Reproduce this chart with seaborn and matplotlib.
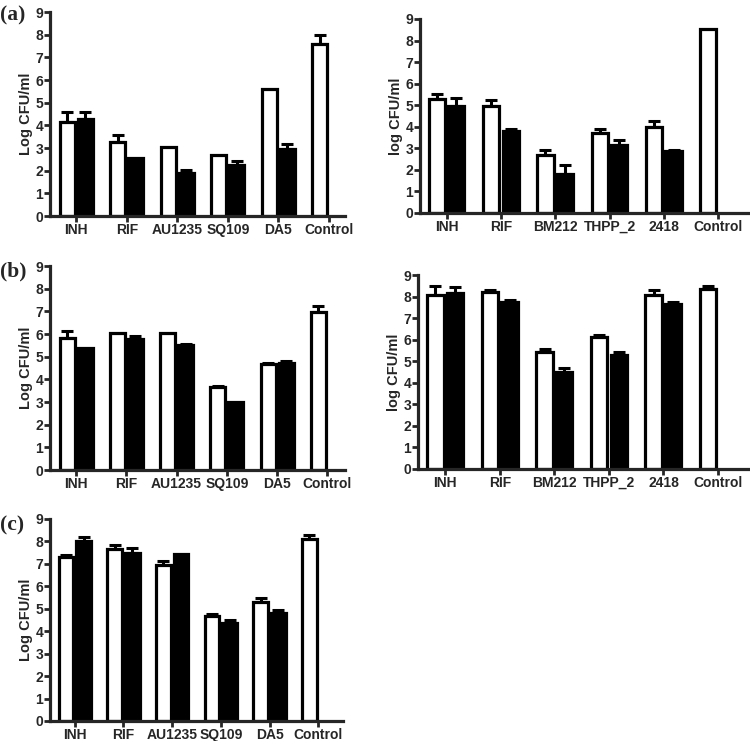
import numpy as np
import pandas as pd
import matplotlib
matplotlib.use("Agg")
import matplotlib.pyplot as plt
import seaborn as sns

sns.set_style("ticks")
plt.rcParams['font.family'] = 'sans-serif'
plt.rcParams['font.sans-serif'] = ['Liberation Sans', 'Arial', 'DejaVu Sans']
plt.rcParams['font.weight'] = 'bold'

cats_left = ["INH", "RIF", "AU1235", "SQ109", "DA5", "Control"]
cats_right = ["INH", "RIF", "BM212", "THPP_2", "2418", "Control"]

# panel (a) left
aL_white = [4.16, 3.27, 3.05, 2.69, 5.62, 7.60]
aL_white_err = [0.42, 0.32, 0.0, 0.0, 0.0, 0.40]
aL_black = [4.28, 2.56, 1.88, 2.25, 2.94, np.nan]
aL_black_err = [0.32, 0.0, 0.15, 0.19, 0.22, 0.0]
# panel (a) right
aR_white = [5.30, 4.95, 2.70, 3.71, 3.97, 8.53]
aR_white_err = [0.23, 0.30, 0.24, 0.19, 0.28, 0.0]
aR_black = [4.98, 3.82, 1.82, 3.17, 2.86, np.nan]
aR_black_err = [0.34, 0.08, 0.42, 0.20, 0.08, 0.0]
# panel (b) left
bL_white = [5.84, 6.06, 6.05, 3.65, 4.68, 6.99]
bL_white_err = [0.29, 0.0, 0.0, 0.07, 0.06, 0.26]
bL_black = [5.40, 5.76, 5.51, 2.99, 4.70, np.nan]
bL_black_err = [0.0, 0.13, 0.06, 0.0, 0.13, 0.0]
# panel (b) right
bR_white = [8.07, 8.23, 5.45, 6.14, 8.07, 8.33]
bR_white_err = [0.42, 0.08, 0.12, 0.08, 0.23, 0.17]
bR_black = [8.18, 7.73, 4.48, 5.29, 7.65, np.nan]
bR_black_err = [0.25, 0.12, 0.20, 0.13, 0.08, 0.0]
# panel (c)
c_white = [7.30, 7.68, 6.96, 4.70, 5.28, 8.13]
c_white_err = [0.08, 0.18, 0.19, 0.06, 0.19, 0.15]
c_black = [8.03, 7.48, 7.46, 4.35, 4.83, np.nan]
c_black_err = [0.15, 0.22, 0.0, 0.17, 0.11, 0.0]

W, H = 750, 741
fig = plt.figure(figsize=(W / 100, H / 100), dpi=100)


def make_ax(x0, x1, y9, y0):
    return fig.add_axes([x0 / W, 1 - y0 / H, (x1 - x0) / W, (y0 - y9) / H])


BW = 0.72
GAP = 0.17


def panel(ax, cats, wv, we, bv, be, ylabel, xlim):
    df = pd.DataFrame({
        "drug": cats * 2,
        "grp": ["w"] * len(cats) + ["b"] * len(cats),
        "val": list(wv) + list(bv),
    })
    sns.barplot(data=df, x="drug", y="val", hue="grp", order=cats,
                hue_order=["w", "b"], palette={"w": "white", "b": "black"},
                edgecolor="black", linewidth=2.3, width=BW, gap=GAP,
                errorbar=None, legend=False, ax=ax, zorder=2)
    for off, vals, errs in ((-BW / 4, wv, we), (BW / 4, bv, be)):
        for i, (v, e) in enumerate(zip(vals, errs)):
            if np.isnan(v) or e <= 0:
                continue
            ax.errorbar(i + off, v, yerr=[[0], [e]], fmt="none",
                        ecolor="black", elinewidth=2.2, capsize=4,
                        capthick=2.2, zorder=1)
    ax.set_ylim(0, 9)
    ax.set_xlim(*xlim)
    ax.set_yticks(range(0, 10))
    ax.set_xlabel("")
    ax.set_ylabel(ylabel, fontsize=10.5, fontweight="bold", labelpad=1.5,
                  family="Liberation Sans")
    for s in ("top", "right"):
        ax.spines[s].set_visible(False)
    for s in ("left", "bottom"):
        ax.spines[s].set_linewidth(2.3)
    ax.tick_params(axis="both", direction="out", length=4, width=2,
                   labelsize=10, pad=1)
    for lab in ax.get_xticklabels() + ax.get_yticklabels():
        lab.set_fontweight("bold")
        lab.set_family("Liberation Sans")


axA1 = make_ax(50, 345, 12, 216)
panel(axA1, cats_left, aL_white, aL_white_err, aL_black, aL_black_err,
      "Log CFU/ml", (-0.52, 5.32))
axA2 = make_ax(420, 748, 19, 213)
panel(axA2, cats_right, aR_white, aR_white_err, aR_black, aR_black_err,
      "log CFU/ml", (-0.49, 5.55))
axB1 = make_ax(50, 345, 266, 470)
panel(axB1, cats_left, bL_white, bL_white_err, bL_black, bL_black_err,
      "Log CFU/ml", (-0.52, 5.35))
axB2 = make_ax(418, 748, 275, 469)
panel(axB2, cats_right, bR_white, bR_white_err, bR_black, bR_black_err,
      "log CFU/ml", (-0.5, 5.55))
axC = make_ax(50, 343, 519, 721)
panel(axC, cats_left, c_white, c_white_err, c_black, c_black_err,
      "Log CFU/ml", (-0.51, 5.51))

for lab, yc in (("(a)", 15), ("(b)", 271), ("(c)", 525)):
    fig.text(0 / W, 1 - yc / H, lab, fontsize=15.5, fontweight="bold",
             family="Liberation Serif", ha="left", va="center")

fig.savefig("out.png", dpi=100)
